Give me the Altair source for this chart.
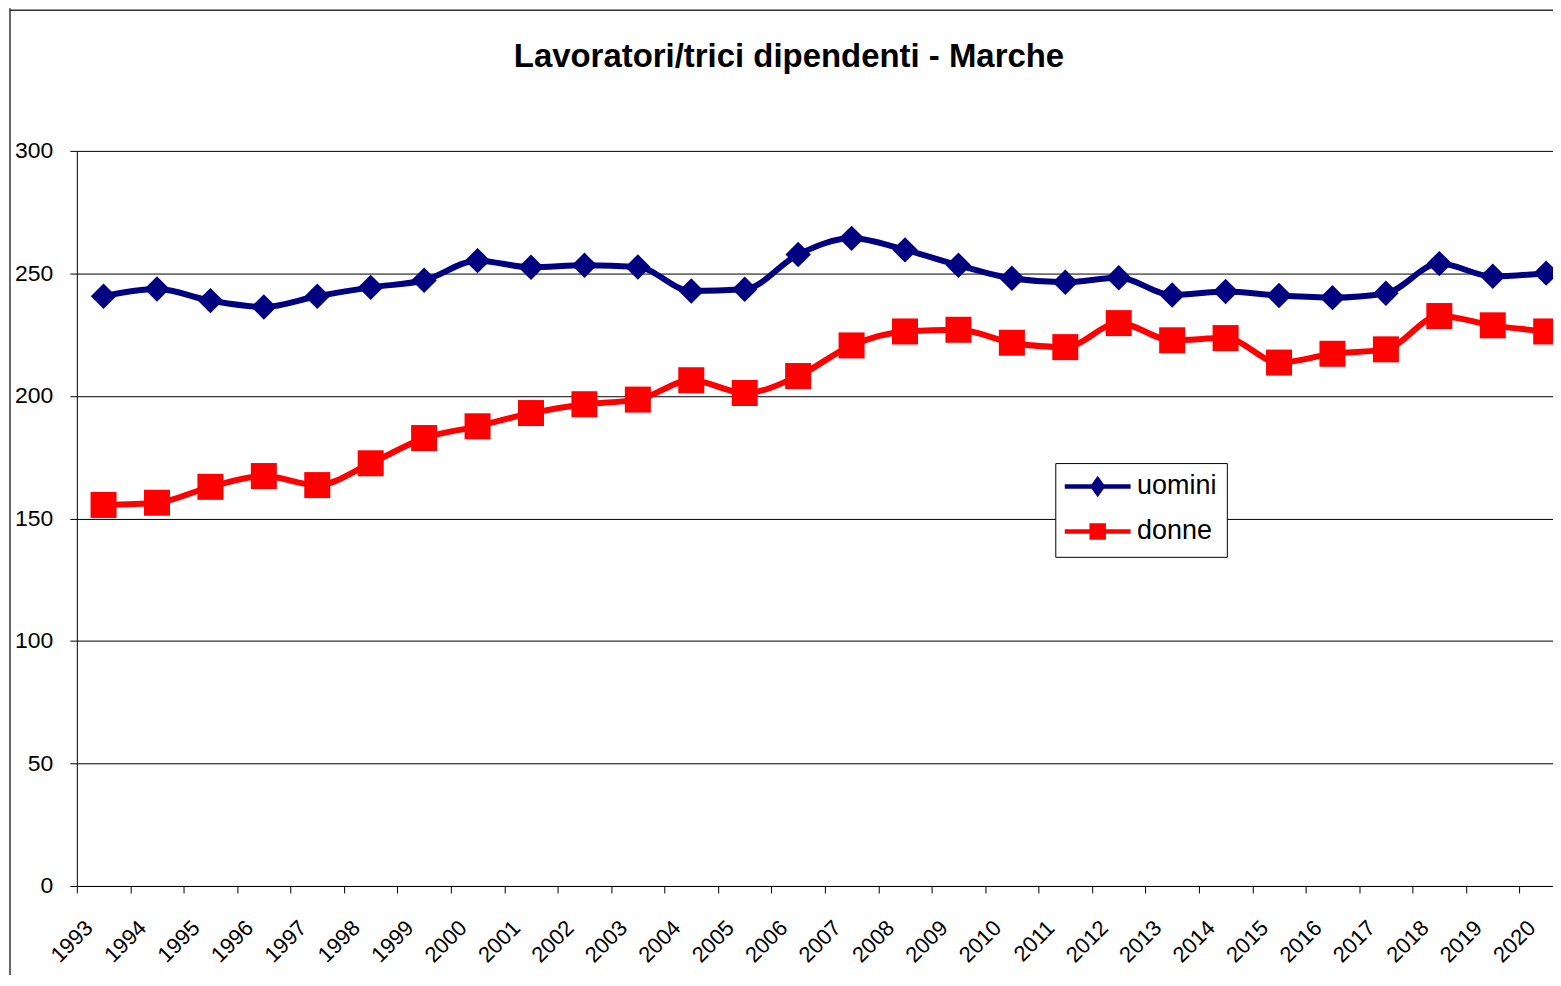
import altair as alt
import pandas as pd

years = list(range(1993, 2021))
uomini = [240.7, 243.6, 238.9, 236.3, 240.7, 244.3, 247.2, 255.2, 252.5, 253.3,
          252.6, 242.8, 243.5, 257.7, 264.3, 259.6, 253.3, 248.0, 246.4, 248.2,
          241.2, 242.6, 241.0, 240.1, 241.9, 254.0, 248.8, 250.1]
donne = [155.5, 156.4, 162.9, 167.3, 163.6, 172.5, 182.8, 187.6, 193.0, 196.6,
         198.5, 206.4, 201.2, 208.1, 220.6, 226.3, 227.0, 221.7, 219.9, 229.7,
         222.7, 223.6, 213.6, 217.2, 219.0, 232.6, 228.8, 226.3]
series = ["uomini", "donne"]
colors = ["#000080", "#FF0000"]
title_text = "Lavoratori/trici dipendenti - Marche"
y_ticks = [0, 50, 100, 150, 200, 250, 300]

rows = []
for s, vals in zip(series, [uomini, donne]):
    for yr, v in zip(years, vals):
        rows.append({"anno": yr, "valore": v, "serie": s})
df = pd.DataFrame(rows)

FONT = "Liberation Sans"
W, H = 1480, 737
STEP = 53.57
x_dom = [1992.5, 1992.5 + W / STEP]

x_enc = alt.X("anno:Q",
              scale=alt.Scale(domain=x_dom, nice=False, zero=False),
              axis=alt.Axis(values=years, format="d", title=None, grid=False,
                            tickOffset=-STEP / 2, tickSize=7, tickColor="#000",
                            domainColor="#000", labelAngle=-45, labelAlign="right",
                            labelBaseline="middle", labelOffset=12, labelPadding=31,
                            labelFontSize=22, labelFont=FONT, labelColor="#000",
                            labelOverlap=False, labelBound=False, labelFlush=False))
y_enc = alt.Y("valore:Q",
              scale=alt.Scale(domain=[0, 300], nice=False),
              axis=alt.Axis(values=y_ticks, title=None, grid=True, gridColor="#000",
                            gridWidth=1, gridOpacity=1, tickSize=7, tickColor="#000",
                            domainColor="#000", labelPadding=17, labelFontSize=23,
                            labelFont=FONT, labelColor="#000"))

color_scale = alt.Scale(domain=series, range=colors)

sym_shape = ("datum.value == 'uomini' ? 'M-3.3,0H3.3M-0.5,0L0,-0.7L0.5,0L0,0.7Z' "
             ": 'M-3.3,0H3.3M-0.6,-0.6H0.6V0.6H-0.6Z'")
sym_col = "datum.value == 'uomini' ? '#000080' : '#FF0000'"

legend = alt.Legend(
    title=None, orient="none", legendX=981, legendY=313,
    strokeColor="#000", fillColor="#fff", padding=10, rowPadding=13,
    labelFontSize=27, labelFont=FONT, labelColor="#000",
    symbolSize=400, symbolStrokeWidth=4.5, symbolOffset=19, labelOffset=26,
    symbolType={"expr": sym_shape},
    symbolFillColor={"expr": sym_col},
    symbolStrokeColor={"expr": sym_col},
    symbolOpacity=1,
)

line = alt.Chart(df).mark_line(interpolate="monotone", strokeWidth=6).encode(
    x=x_enc, y=y_enc,
    color=alt.Color("serie:N", scale=color_scale, legend=legend),
)

pts_u = alt.Chart(df).transform_filter(alt.datum.serie == "uomini").mark_point(
    filled=True, opacity=1, shape="diamond", size=650).encode(
    x=x_enc, y=y_enc, color=alt.Color("serie:N", scale=color_scale))
pts_d = alt.Chart(df).transform_filter(alt.datum.serie == "donne").mark_point(
    filled=True, opacity=1, shape="square", size=680).encode(
    x=x_enc, y=y_enc, color=alt.Color("serie:N", scale=color_scale))

frame_data = alt.Data(values=[{"k": 1}])
frame_left = alt.Chart(frame_data).mark_rule(color="#333", strokeWidth=1.5).encode(
    x=alt.value(-67), y=alt.value(-143), y2=alt.value(900))
frame_top = alt.Chart(frame_data).mark_rule(color="#333", strokeWidth=1.5).encode(
    x=alt.value(-67), x2=alt.value(1500), y=alt.value(-141))

chart = alt.layer(frame_left, frame_top, line, pts_u, pts_d).properties(
    width=W, height=H,
    title=alt.TitleParams(title_text, fontSize=33, fontWeight="bold", font=FONT,
                          color="#000", anchor="middle", dx=-26, offset=0,
                          baseline="alphabetic", dy=93),
    autosize=alt.AutoSizeParams(type="none"),
    padding={"left": 69, "top": 142, "right": 0, "bottom": 88},
    background="#fff",
).configure_view(stroke=None)

chart.save("out.html", embed_options={"renderer": "svg", "actions": False})
